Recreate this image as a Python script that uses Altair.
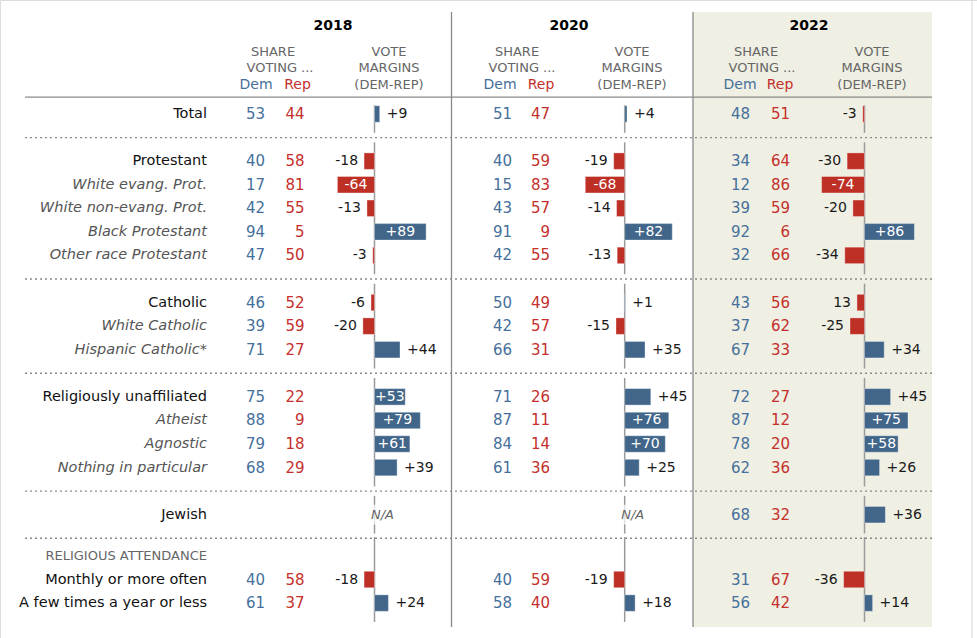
import altair as alt
import pandas as pd

# ---------------------------------------------------------------- data
rows = [
    "Total",
    "Protestant", "White evang. Prot.", "White non-evang. Prot.",
    "Black Protestant", "Other race Protestant",
    "Catholic", "White Catholic", "Hispanic Catholic*",
    "Religiously unaffiliated", "Atheist", "Agnostic", "Nothing in particular",
    "Jewish",
    "Monthly or more often", "A few times a year or less",
]
row_group = [0, 1, 1, 1, 1, 1, 2, 2, 2, 3, 3, 3, 3, 4, 5, 5]
row_italic = [False, False, True, True, True, True, False, True, True,
              False, True, True, True, False, False, False]
group_headers = {5: "RELIGIOUS ATTENDANCE"}

years = ["2018", "2020", "2022"]

dem_2018 = [53, 40, 17, 42, 94, 47, 46, 39, 71, 75, 88, 79, 68, None, 40, 61]
rep_2018 = [44, 58, 81, 55, 5, 50, 52, 59, 27, 22, 9, 18, 29, None, 58, 37]
margin_2018 = [9, -18, -64, -13, 89, -3, -6, -20, 44, 53, 79, 61, 39, None, -18, 24]
margin_text_2018 = ["+9", "-18", "-64", "-13", "+89", "-3", "-6", "-20", "+44",
                    "+53", "+79", "+61", "+39", None, "-18", "+24"]

dem_2020 = [51, 40, 15, 43, 91, 42, 50, 42, 66, 71, 87, 84, 61, None, 40, 58]
rep_2020 = [47, 59, 83, 57, 9, 55, 49, 57, 31, 26, 11, 14, 36, None, 59, 40]
margin_2020 = [4, -19, -68, -14, 82, -13, 1, -15, 35, 45, 76, 70, 25, None, -19, 18]
margin_text_2020 = ["+4", "-19", "-68", "-14", "+82", "-13", "+1", "-15", "+35",
                    "+45", "+76", "+70", "+25", None, "-19", "+18"]

dem_2022 = [48, 34, 12, 39, 92, 32, 43, 37, 67, 72, 87, 78, 62, 68, 31, 56]
rep_2022 = [51, 64, 86, 59, 6, 66, 56, 62, 33, 27, 12, 20, 36, 32, 67, 42]
margin_2022 = [-3, -30, -74, -20, 86, -34, -13, -25, 34, 45, 75, 58, 26, 36, -36, 14]
margin_text_2022 = ["-3", "-30", "-74", "-20", "+86", "-34", "13", "-25", "+34",
                    "+45", "+75", "+58", "+26", "+36", "-36", "+14"]

# ---------------------------------------------------------------- styling / layout
FONT = "DejaVu Sans"
W, H = 977, 638
ROW_PX = 23.57          # height of one table row
FIRST_ROW_PX = 114      # centre of the first row
BLUE_BAR = "#41668a"
RED_BAR = "#be2f25"
DEM_TXT = "#46709b"
REP_TXT = "#c4302b"
GRAY_TXT = "#666666"
LABEL_GRAY = "#555555"
RULE_GRAY = "#8a8a8a"
BG_2022 = "#efefe3"
BAR_HALF_PX = 58        # pixels for a 100-point margin
INSIDE_MIN = 50         # margins at least this wide carry their label inside

ys = alt.Scale(domain=[-FIRST_ROW_PX / ROW_PX, (H - FIRST_ROW_PX) / ROW_PX],
               range=[0, H], nice=False, zero=False)

# row slots (in row units), with a blank slot for each dotted divider
slots, dividers, subheads = [], [], []
prev = None
pos = 0.0
for g in row_group:
    if prev is None:
        pos = 0.0
    elif g != prev:
        div = pos + 1
        dividers.append(div)
        if g in group_headers:
            subheads.append((group_headers[g], div + 0.75))
            pos = div + 1.75
        else:
            pos = div + 1
    else:
        pos += 1
    slots.append(pos)
    prev = g

HEADER_LINE = -0.72

# extent of the zero line for each group
group_spans = []
for g in sorted(set(row_group)):
    s = [sl for sl, gg in zip(slots, row_group) if gg == g]
    top = min(s)
    for name, hs in subheads:
        if g in group_headers and group_headers[g] == name:
            top = hs
    group_spans.append({"y0": max(top - 0.8, HEADER_LINE + 0.35), "y1": max(s) + 0.8})
spans_df = pd.DataFrame(group_spans)

# column positions for each year block (pixels)
layout = {
    "2018": dict(zero=374.5, dem=265, rep=304.5, year=333, share=273, voting=280,
                 dem_h=256, rep_h=297.5, vote=389),
    "2020": dict(zero=624.7, dem=512, rep=550, year=569, share=517, voting=522,
                 dem_h=500, rep_h=541, vote=632),
    "2022": dict(zero=864.5, dem=750, rep=790, year=809, share=756, voting=762,
                 dem_h=740, rep_h=780, vote=872),
}
series = {
    "2018": (dem_2018, rep_2018, margin_2018, margin_text_2018),
    "2020": (dem_2020, rep_2020, margin_2020, margin_text_2020),
    "2022": (dem_2022, rep_2022, margin_2022, margin_text_2022),
}


def Y(field):
    return alt.Y(field, type="quantitative", scale=ys, axis=None)


def year_block(year):
    dem, rep, margin, mtext = series[year]
    L = layout[year]
    df = pd.DataFrame({"row": rows, "slot": slots, "dem": dem, "rep": rep,
                       "margin": margin, "mtext": mtext})
    has = df[df["margin"].notna()].copy()
    na = df[df["margin"].isna()].copy()
    xs = alt.Scale(domain=[-100, 100],
                   range=[L["zero"] - BAR_HALF_PX, L["zero"] + BAR_HALF_PX],
                   nice=False, zero=False)
    X = lambda f: alt.X(f, type="quantitative", scale=xs, axis=None)

    zero_line = alt.Chart(spans_df).transform_calculate(base="0").mark_rule(
        color="#9a9a9a", strokeWidth=1.5
    ).encode(x=X("base"), y=Y("y0"), y2="y1:Q")

    bars = alt.Chart(has).transform_calculate(
        y0="datum.slot - 0.35", y1="datum.slot + 0.35", base="0"
    ).mark_bar(stroke="#ffffff", strokeWidth=0.6, strokeOpacity=0.6).encode(
        x=X("margin"), x2="base:Q", y=Y("y0"), y2="y1:Q",
        color=alt.condition("datum.margin > 0", alt.value(BLUE_BAR), alt.value(RED_BAR)),
    )

    txt = dict(font=FONT, fontSize=14, baseline="middle")
    pos_out = alt.Chart(has).transform_filter(
        f"datum.margin > 0 && datum.margin < {INSIDE_MIN}"
    ).mark_text(align="left", dx=7, color="#1a1a1a", **txt).encode(
        x=X("margin"), y=Y("slot"), text="mtext:N")
    neg_out = alt.Chart(has).transform_filter(
        f"datum.margin < 0 && datum.margin > -{INSIDE_MIN}"
    ).mark_text(align="right", dx=-6, color="#1a1a1a", **txt).encode(
        x=X("margin"), y=Y("slot"), text="mtext:N")
    inside = alt.Chart(has).transform_filter(
        f"abs(datum.margin) >= {INSIDE_MIN}"
    ).transform_calculate(mid="datum.margin / 2").mark_text(
        align="center", color="#ffffff", **txt).encode(
        x=X("mid"), y=Y("slot"), text="mtext:N")

    shares = df[df["dem"].notna()].copy()
    dem_t = alt.Chart(shares).mark_text(
        align="right", font=FONT, fontSize=15, baseline="middle", color=DEM_TXT
    ).encode(x=alt.value(L["dem"]), y=Y("slot"), text=alt.Text("dem:Q", format="d"))
    rep_t = alt.Chart(shares).mark_text(
        align="right", font=FONT, fontSize=15, baseline="middle", color=REP_TXT
    ).encode(x=alt.value(L["rep"]), y=Y("slot"), text=alt.Text("rep:Q", format="d"))

    layers = [zero_line, bars, pos_out, neg_out, inside, dem_t, rep_t]
    if len(na):
        # soft box that lets the zero line show faintly behind "N/A"
        na_box = alt.Chart(na).transform_calculate(
            y0="datum.slot - 0.42", y1="datum.slot + 0.42"
        ).mark_rect(color="#ffffff", opacity=0.7).encode(
            x=alt.value(L["zero"] - 10), x2=alt.value(L["zero"] + 27),
            y=Y("y0"), y2="y1:Q")
        na_t = alt.Chart(na).transform_calculate(lbl="'N/A'").mark_text(
            align="center", font=FONT, fontSize=13, fontStyle="italic",
            baseline="middle", color=GRAY_TXT, dx=8
        ).encode(x=alt.value(L["zero"]), y=Y("slot"), text="lbl:N")
        layers += [na_box, na_t]

    # column headers
    head = pd.DataFrame([
        {"t": year, "px": L["year"], "slot": -3.73, "kind": "year"},
        {"t": "SHARE", "px": L["share"], "slot": -2.63, "kind": "cap"},
        {"t": "VOTING ...", "px": L["voting"], "slot": -1.95, "kind": "cap"},
        {"t": "VOTE", "px": L["vote"], "slot": -2.63, "kind": "cap"},
        {"t": "MARGINS", "px": L["vote"], "slot": -1.95, "kind": "cap"},
        {"t": "(DEM-REP)", "px": L["vote"], "slot": -1.23, "kind": "cap"},
        {"t": "Dem", "px": L["dem_h"], "slot": -1.23, "kind": "dem"},
        {"t": "Rep", "px": L["rep_h"], "slot": -1.23, "kind": "rep"},
    ])
    yr = alt.Chart(head[head.kind == "year"]).mark_text(
        font=FONT, fontSize=14, fontWeight="bold", color="#000000", baseline="middle"
    ).encode(x=alt.X("px:Q", scale=None, axis=None), y=Y("slot"), text="t:N")
    caps = alt.Chart(head[head.kind == "cap"]).mark_text(
        font=FONT, fontSize=13, color=GRAY_TXT, baseline="middle"
    ).encode(x=alt.X("px:Q", scale=None, axis=None), y=Y("slot"), text="t:N")
    dh = alt.Chart(head[head.kind == "dem"]).mark_text(
        font=FONT, fontSize=14, color=DEM_TXT, baseline="middle"
    ).encode(x=alt.X("px:Q", scale=None, axis=None), y=Y("slot"), text="t:N")
    rh = alt.Chart(head[head.kind == "rep"]).mark_text(
        font=FONT, fontSize=14, color=REP_TXT, baseline="middle"
    ).encode(x=alt.X("px:Q", scale=None, axis=None), y=Y("slot"), text="t:N")
    layers += [yr, caps, dh, rh]
    return alt.layer(*layers)


# ---------------------------------------------------------------- frame
frame_y = dict(y=alt.value(12), y2=alt.value(627))
bg = alt.Chart(pd.DataFrame({"k": [0]})).mark_rect(color=BG_2022).encode(
    x=alt.value(693), x2=alt.value(932), **frame_y)
vsep = alt.Chart(pd.DataFrame({"px": [451.5, 693]})).mark_rule(
    color=RULE_GRAY, strokeWidth=1.3
).encode(x=alt.X("px:Q", scale=None, axis=None), **frame_y)
edge = alt.Chart(pd.DataFrame({"k": [0]})).mark_rule(color="#d8d8d8", strokeWidth=1).encode(
    x=alt.value(972), y=alt.value(0), y2=alt.value(H))

head_line = alt.Chart(pd.DataFrame({"slot": [HEADER_LINE]})).mark_rule(
    color=RULE_GRAY, strokeWidth=1.3
).encode(x=alt.value(25), x2=alt.value(932), y=Y("slot"))
div_lines = alt.Chart(pd.DataFrame({"slot": dividers})).mark_rule(
    color=RULE_GRAY, strokeWidth=1.3, strokeDash=[2, 3]
).encode(x=alt.value(25), x2=alt.value(932), y=Y("slot"))

labels_df = pd.DataFrame({"row": rows, "slot": slots, "italic": row_italic})
main_lbl = alt.Chart(labels_df[~labels_df.italic]).mark_text(
    align="right", font=FONT, fontSize=14.5, color="#111111", baseline="middle"
).encode(x=alt.value(207), y=Y("slot"), text="row:N")
sub_lbl = alt.Chart(labels_df[labels_df.italic]).mark_text(
    align="right", font=FONT, fontSize=14.5, fontStyle="italic", color=LABEL_GRAY,
    baseline="middle"
).encode(x=alt.value(207), y=Y("slot"), text="row:N")
sub_head = alt.Chart(pd.DataFrame({"t": [s[0] for s in subheads],
                                   "slot": [s[1] for s in subheads]})).mark_text(
    align="right", font=FONT, fontSize=13, color=GRAY_TXT, baseline="middle"
).encode(x=alt.value(207), y=Y("slot"), text="t:N")

chart = alt.layer(
    bg, edge, vsep, head_line, div_lines, main_lbl, sub_lbl, sub_head,
    *[year_block(y) for y in years]
).resolve_scale(x="independent").properties(
    width=W, height=H, autosize=alt.AutoSizeParams(type="none"), padding=0,
    background="#ffffff"
).configure_view(stroke=None).configure(font=FONT)

chart.save("out.html", embed_options={"renderer": "svg", "actions": False})
